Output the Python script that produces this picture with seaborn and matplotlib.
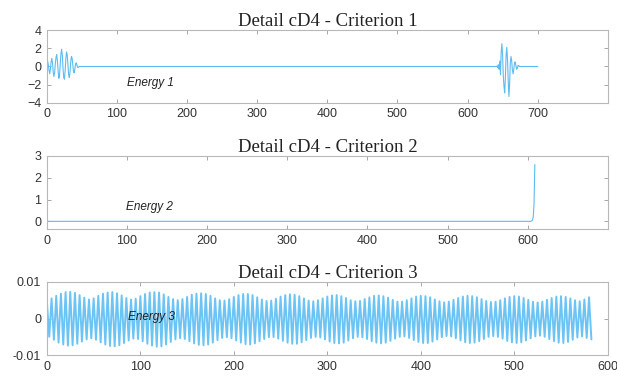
import numpy as np
import pandas as pd
import seaborn as sns
import matplotlib
matplotlib.use("Agg")
import matplotlib.pyplot as plt

# ---- criterion 1: two bursts, flat in between ----
burst1_start = 0
burst1 = [0.3, 0.6, 0.2, -0.4, -0.8, -0.3, 0.5, 0.9, 0.4, -0.6, -1.1, -0.7, 0.3, 1.0, 1.3, 0.6,
          -0.5, -1.3, -1.0, 0.2, 1.4, 1.9, 1.2, -0.2, -1.2, -1.4, -0.5, 0.8, 1.6, 1.3, 0.2, -0.9,
          -1.2, -0.6, 0.5, 1.1, 0.9, 0.1, -0.6, -0.7, -0.2, 0.3, 0.4, 0.1, -0.1, -0.1, 0.0, 0.0]
burst2_start = 642
burst2 = [0.05, -0.1, 0.2, -0.3, 0.6, -0.9, 1.6, 2.5, 1.2, -1.0, -2.2, -2.9, -1.2, 1.2, 2.1,
          0.8, -1.5, -3.3, -2.0, 0.4, 1.1, 0.6, -0.4, -0.8, -0.3, 0.4, 0.5, 0.1, -0.3, -0.2,
          0.1, 0.1, 0.0]
crit1_end = 700

# ---- criterion 2: flat, sharp rise at the end ----
crit2_tail_start = 605
crit2_tail = [0.02, 0.05, 0.2, 0.8, 2.6]

# ---- criterion 3: dense oscillation, peaks / troughs per cycle (5 samples) ----
crit3_upper = [0.0045, 0.0055, 0.0062, 0.0068, 0.0072, 0.0073, 0.0070, 0.0064, 0.0057, 0.0052,
               0.0055, 0.0062, 0.0068, 0.0071, 0.0072, 0.0069, 0.0063, 0.0056, 0.0052, 0.0054,
               0.0061, 0.0067, 0.0071, 0.0072, 0.0071, 0.0066, 0.0059, 0.0053, 0.0050, 0.0053,
               0.0059, 0.0065, 0.0068, 0.0069, 0.0067, 0.0062, 0.0055, 0.0050, 0.0049, 0.0053,
               0.0059, 0.0064, 0.0067, 0.0067, 0.0064, 0.0058, 0.0052, 0.0048, 0.0049, 0.0054,
               0.0060, 0.0064, 0.0066, 0.0065, 0.0061, 0.0055, 0.0049, 0.0047, 0.0050, 0.0055,
               0.0060, 0.0063, 0.0064, 0.0061, 0.0056, 0.0050, 0.0047, 0.0048, 0.0053, 0.0058,
               0.0062, 0.0063, 0.0061, 0.0057, 0.0051, 0.0046, 0.0046, 0.0050, 0.0055, 0.0060,
               0.0062, 0.0061, 0.0058, 0.0052, 0.0047, 0.0044, 0.0046, 0.0051, 0.0056, 0.0060,
               0.0062, 0.0061, 0.0058, 0.0053, 0.0048, 0.0045, 0.0046, 0.0050, 0.0055, 0.0059,
               0.0061, 0.0060, 0.0056, 0.0051, 0.0046, 0.0044, 0.0046, 0.0051, 0.0056, 0.0060,
               0.0061, 0.0059, 0.0055, 0.0050, 0.0047, 0.0052, 0.0058]
crit3_lower = [-0.0050, -0.0058, -0.0066, -0.0071, -0.0074, -0.0073, -0.0069, -0.0063, -0.0057, -0.0054,
               -0.0058, -0.0065, -0.0071, -0.0075, -0.0076, -0.0073, -0.0067, -0.0060, -0.0055, -0.0056,
               -0.0062, -0.0069, -0.0074, -0.0077, -0.0076, -0.0071, -0.0064, -0.0057, -0.0054, -0.0056,
               -0.0062, -0.0068, -0.0072, -0.0073, -0.0071, -0.0066, -0.0059, -0.0053, -0.0051, -0.0054,
               -0.0060, -0.0066, -0.0070, -0.0071, -0.0068, -0.0062, -0.0056, -0.0051, -0.0051, -0.0055,
               -0.0061, -0.0066, -0.0069, -0.0069, -0.0065, -0.0059, -0.0053, -0.0050, -0.0052, -0.0057,
               -0.0063, -0.0067, -0.0068, -0.0066, -0.0060, -0.0054, -0.0050, -0.0051, -0.0056, -0.0062,
               -0.0066, -0.0068, -0.0066, -0.0061, -0.0055, -0.0050, -0.0049, -0.0053, -0.0059, -0.0064,
               -0.0067, -0.0067, -0.0063, -0.0057, -0.0051, -0.0048, -0.0049, -0.0054, -0.0060, -0.0065,
               -0.0067, -0.0066, -0.0062, -0.0056, -0.0050, -0.0048, -0.0050, -0.0055, -0.0061, -0.0065,
               -0.0067, -0.0065, -0.0060, -0.0054, -0.0049, -0.0047, -0.0050, -0.0056, -0.0062, -0.0066,
               -0.0067, -0.0064, -0.0058, -0.0052, -0.0049, -0.0053, -0.0057]
crit3_cycle = 5

titles = ["Detail cD4 - Criterion 1", "Detail cD4 - Criterion 2", "Detail cD4 - Criterion 3"]
labels = ["Energy 1", "Energy 2", "Energy 3"]

# build the series
x1 = np.arange(crit1_end + 1)
y1 = np.zeros(len(x1))
y1[burst1_start:burst1_start + len(burst1)] = burst1
y1[burst2_start:burst2_start + len(burst2)] = burst2

x2 = np.arange(crit2_tail_start + len(crit2_tail))
y2 = np.zeros(len(x2))
y2[crit2_tail_start:] = crit2_tail

x3, y3 = [], []
for k, (u, l) in enumerate(zip(crit3_upper, crit3_lower)):
    x3 += [k * crit3_cycle, k * crit3_cycle + crit3_cycle / 2]
    y3 += [u, l]

sns.set_style("ticks")
plt.rcParams['font.family'] = ['Liberation Sans', 'DejaVu Sans']

col = "#5cbcf2"
fig = plt.figure(figsize=(6.17, 3.81), dpi=100)
ax1 = fig.add_axes([0.076, 0.730, 0.909, 0.191])
ax2 = fig.add_axes([0.076, 0.399, 0.909, 0.192])
ax3 = fig.add_axes([0.076, 0.068, 0.909, 0.192])

sns.lineplot(x=x1, y=y1, ax=ax1, color=col, lw=0.8, estimator=None)
sns.lineplot(x=x2, y=y2, ax=ax2, color=col, lw=0.8, estimator=None)
sns.lineplot(x=x3, y=y3, ax=ax3, color="#6cc4f4", lw=1.4, estimator=None, sort=False)

ax1.set_xlim(0, 800)
ax1.set_ylim(-4, 4)
ax1.set_xticks(range(0, 701, 100))
ax1.set_yticks([-4, -2, 0, 2, 4])

ax2.set_xlim(0, 700)
ax2.set_ylim(-0.35, 3)
ax2.set_xticks(range(0, 601, 100))
ax2.set_yticks([0, 1, 2, 3])

ax3.set_xlim(0, 600)
ax3.set_ylim(-0.01, 0.01)
ax3.set_xticks(range(0, 601, 100))
ax3.set_yticks([-0.01, 0, 0.01])
ax3.set_yticklabels(["-0.01", "0", "0.01"])

text_pos = [(147, -1.8), (128, 0.67), (112, 0.0003)]
for ax, t, lab, (tx, ty) in zip([ax1, ax2, ax3], titles, labels, text_pos):
    ax.set_title(t, family="Liberation Serif", fontsize=13.5, pad=3, color="#222222")
    ax.text(tx, ty, lab, fontsize=8.5, style="italic", ha="center", va="center", color="#222222")
    ax.set_xlabel("")
    ax.set_ylabel("")
    for s in ax.spines.values():
        s.set_color("#b8b8b8")
        s.set_linewidth(0.8)
    ax.tick_params(direction="in", length=3, width=0.6, color="#999999",
                   top=True, right=True, labelsize=9, labelcolor="#333333", pad=4)

fig.savefig("out.png", dpi=100)
